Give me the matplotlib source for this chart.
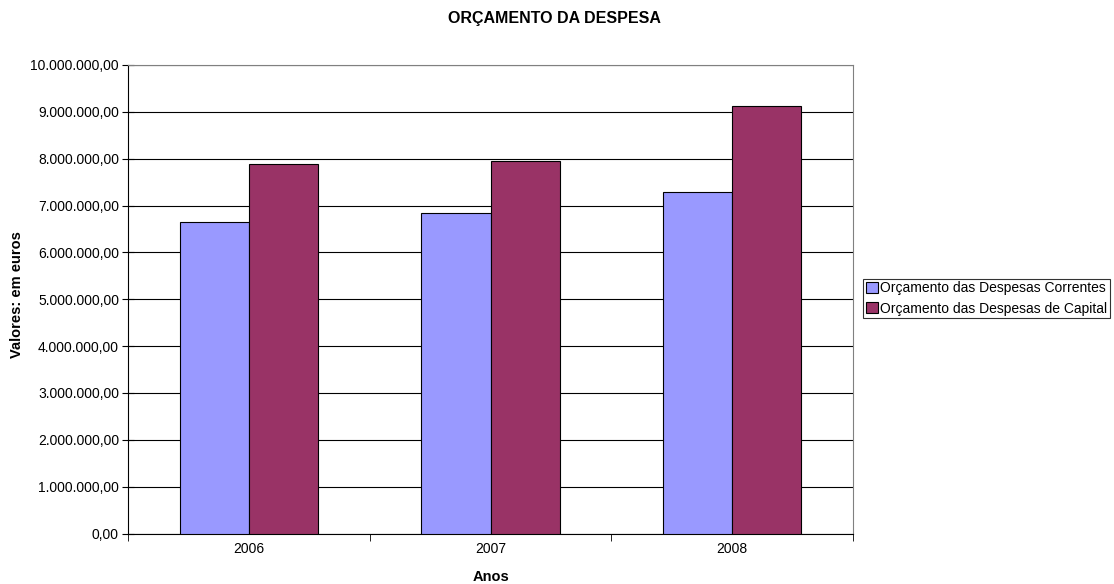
import matplotlib
matplotlib.use("Agg")
import matplotlib.pyplot as plt
from matplotlib.ticker import FuncFormatter
import numpy as np

# dados do gráfico
anos = ["2006", "2007", "2008"]
correntes = [6640000, 6850000, 7280000]
capital = [7890000, 7960000, 9120000]
series_names = ["Orçamento das Despesas Correntes", "Orçamento das Despesas de Capital"]

plt.rcParams['font.family'] = ['Liberation Sans', 'DejaVu Sans']

def fmt_pt(v, pos):
    s = "{:,.2f}".format(v)
    return s.replace(",", "X").replace(".", ",").replace("X", ".")

fig = plt.figure(figsize=(11.14, 5.84), dpi=100)
ax = fig.add_axes([128/1114, 50.5/584, 725/1114, 468.5/584])

x = np.arange(len(anos))
w = 1/3.5
ax.bar(x - w/2, correntes, w, color="#9999FF", edgecolor="black", linewidth=0.8,
       label=series_names[0], zorder=3)
ax.bar(x + w/2, capital, w, color="#993366", edgecolor="black", linewidth=0.8,
       label=series_names[1], zorder=3)

ax.set_xlim(-0.5, 2.5)
ax.set_ylim(0, 10000000)
ax.set_yticks(np.arange(0, 10000001, 1000000))
ax.yaxis.set_major_formatter(FuncFormatter(fmt_pt))
ax.set_xticks(x)
ax.set_xticklabels(anos)
ax.set_xticks([-0.5, 0.5, 1.5, 2.5], minor=True)
ax.tick_params(axis='x', which='major', length=0, labelsize=10, pad=6)
ax.tick_params(axis='x', which='minor', length=5, direction='out', color='black')
ax.tick_params(axis='y', length=9, direction='inout', labelsize=10, pad=2)

ax.grid(axis='y', color='black', linewidth=0.8, zorder=0)
for s in ['top', 'right']:
    ax.spines[s].set_color('#808080')
for s in ['left', 'bottom']:
    ax.spines[s].set_color('black')

fig.text(554/1114, 1 - 18.5/584, "ORÇAMENTO DA DESPESA", ha='center', va='center',
         fontsize=11.5, fontweight='bold')
fig.text(17/1114, 1 - 295/584, "Valores: em euros", rotation=90,
         ha='center', va='center', fontsize=10.5, fontweight='bold')
fig.text(491/1114, 1 - 577/584, "Anos", ha='center', va='center',
         fontsize=10.5, fontweight='bold')

leg = fig.legend(loc='center left', bbox_to_anchor=(863/1114, 1 - 298.5/584),
                 fontsize=10, frameon=True, fancybox=False, edgecolor='black',
                 handlelength=0.85, handleheight=0.85, handletextpad=0.2,
                 borderpad=0.2, labelspacing=0.45, borderaxespad=0)
leg.get_frame().set_linewidth(0.8)

fig.savefig("out.png", dpi=100)
